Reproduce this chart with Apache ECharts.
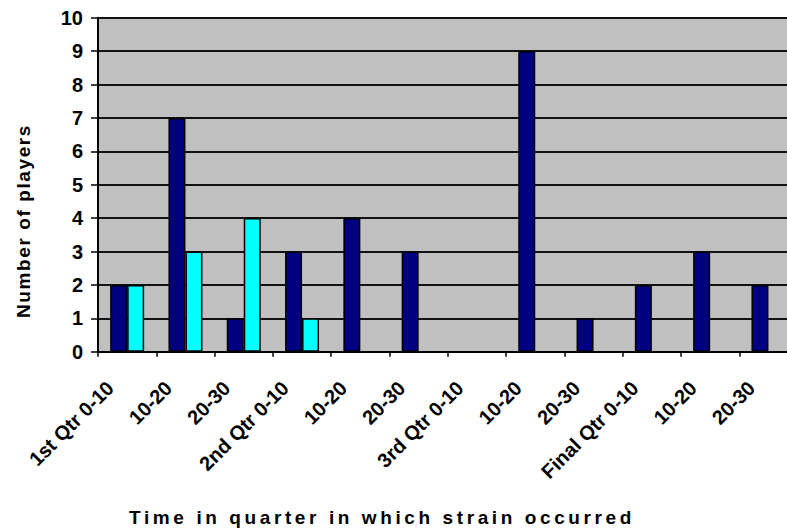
<!DOCTYPE html>
<html>
<head>
<meta charset="utf-8">
<script src="https://cdn.jsdelivr.net/npm/echarts@6/dist/echarts.min.js"></script>
<style>
  html, body { margin: 0; padding: 0; background: #fff; }
  #chart { width: 787px; height: 531px; }
</style>
</head>
<body>
<div id="chart"></div>
<script>
// Time windows within each quarter
const categories = [
  '1st Qtr 0-10', '10-20', '20-30',
  '2nd Qtr 0-10', '10-20', '20-30',
  '3rd Qtr 0-10', '10-20', '20-30',
  'Final Qtr 0-10', '10-20', '20-30'
];
// Players per window, two groups
const seriesA = [2, 7, 1, 3, 4, 3, 0, 9, 1, 2, 3, 2];
const seriesB = [2, 3, 4, 1, 0, 0, 0, 0, 0, 0, 0, 0];
const yTicks = { min: 0, max: 10, step: 1 };

const xTitle = 'Time in quarter in which strain occurred';
const yTitle = 'Number of players';

const FONT = 'Arial, "Liberation Sans", sans-serif';

const chart = echarts.init(document.getElementById('chart'), null, { renderer: 'svg' });

const barItem = (color) => ({ color: color, borderColor: '#000', borderWidth: 1.5 });

chart.setOption({
  animation: false,
  backgroundColor: '#ffffff',
  grid: {
    left: 98, top: 17.7, width: 699.6, height: 334,
    show: true, backgroundColor: '#C0C0C0', borderWidth: 0,
    containLabel: false, outerBoundsMode: 'none'
  },
  xAxis: {
    type: 'category',
    data: categories,
    boundaryGap: true,
    axisLine: { show: true, lineStyle: { color: '#000', width: 2 } },
    axisTick: { show: true, alignWithLabel: false, length: 5, lineStyle: { color: '#000', width: 1.5 } },
    axisLabel: {
      interval: 0, rotate: 45, margin: 16,
      padding: [0, 24, 0, 0],
      color: '#000', fontFamily: FONT, fontWeight: 'bold', fontSize: 20
    },
    splitLine: { show: false }
  },
  yAxis: {
    type: 'value',
    min: yTicks.min, max: yTicks.max, interval: yTicks.step,
    axisLine: { show: true, lineStyle: { color: '#000', width: 2 } },
    axisTick: { show: true, length: 7, lineStyle: { color: '#000', width: 1.5 } },
    axisLabel: { margin: 15, color: '#000', fontFamily: FONT, fontWeight: 'bold', fontSize: 20 },
    splitLine: { show: true, lineStyle: { color: '#111', width: 2 } }
  },
  series: [
    { type: 'bar', data: seriesA, barWidth: 17, barGap: '0%', itemStyle: barItem('#000080') },
    { type: 'bar', data: seriesB, barWidth: 17, barGap: '0%', itemStyle: barItem('#00FFFF') }
  ],
  graphic: [
    {
      type: 'text', x: 382, y: 517,
      style: { text: xTitle, fill: '#000', font: 'bold 19px ' + FONT, align: 'center', verticalAlign: 'middle' }
    },
    {
      type: 'text', x: 23, y: 221, rotation: Math.PI / 2,
      style: { text: yTitle, fill: '#000', font: 'bold 19px ' + FONT, align: 'center', verticalAlign: 'middle' }
    }
  ]
});

// Wider tracking for the two axis titles
document.querySelectorAll('#chart svg text').forEach(function (el) {
  if (el.textContent === xTitle) el.style.letterSpacing = '3.6px';
  if (el.textContent === yTitle) el.style.letterSpacing = '1.6px';
});
</script>
</body>
</html>
